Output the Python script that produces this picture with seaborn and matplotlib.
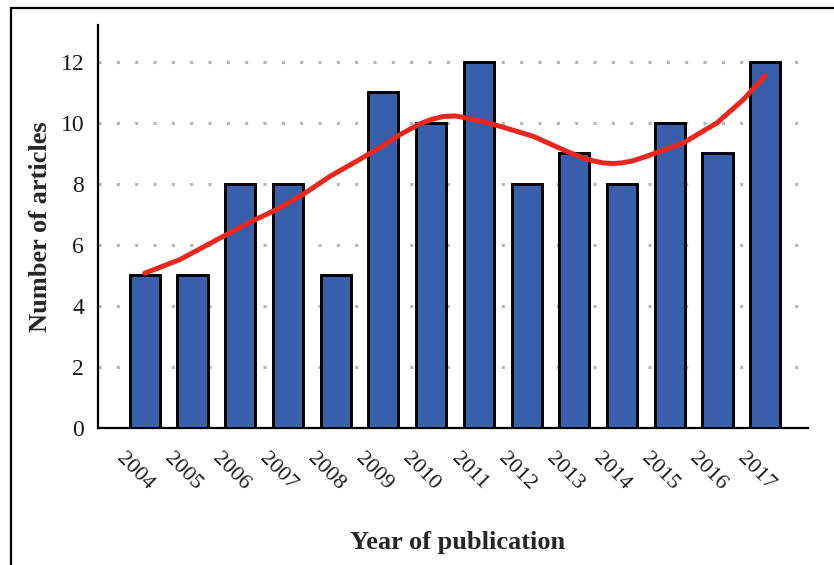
import numpy as np
import pandas as pd
import matplotlib
matplotlib.use('Agg')
import matplotlib.pyplot as plt
import matplotlib.transforms as mtransforms
from matplotlib.patches import Rectangle
import seaborn as sns

# Dados
years = [2004, 2005, 2006, 2007, 2008, 2009, 2010, 2011, 2012, 2013, 2014, 2015, 2016, 2017]
articles = [5, 5, 8, 8, 5, 11, 10, 12, 8, 9, 8, 10, 9, 12]

trend_x = [2004.0, 2004.73, 2005.71, 2006.31, 2006.76, 2007.31, 2007.88, 2008.5,
           2009.0, 2009.35, 2009.77, 2010.0, 2010.25, 2010.5, 2010.74, 2011.1, 2011.44,
           2012.14, 2012.84, 2013.15, 2013.39, 2013.6, 2013.81, 2014.0, 2014.23, 2014.52,
           2015.28, 2015.99, 2016.54, 2017.0]
trend_y = [5.07, 5.51, 6.33, 6.82, 7.15, 7.64, 8.24, 8.79,
           9.25, 9.61, 9.96, 10.1, 10.2, 10.22, 10.15, 10.03, 9.88,
           9.55, 9.06, 8.86, 8.75, 8.68, 8.66, 8.68, 8.75, 8.9,
           9.33, 9.99, 10.75, 11.54]

df = pd.DataFrame({'Year': years, 'Articles': articles})
trend = pd.DataFrame({'x': trend_x, 'y': trend_y})

sns.set_theme(style='white')
plt.rcParams['font.family'] = ['Liberation Serif', 'DejaVu Serif']

fig = plt.figure(figsize=(8.34, 5.65), dpi=100)
ax = fig.add_axes([0.1175, 0.2425, 0.8515, 0.7135])

sns.barplot(data=df, x='Year', y='Articles', native_scale=True, width=0.63,
            color='#3A5FAA', saturation=1, edgecolor='black', linewidth=2.1, ax=ax, zorder=3)
sns.lineplot(data=trend, x='x', y='y', color='#E8271F', linewidth=3.6, ax=ax, zorder=4)

ax.set_xlim(2003.02, 2017.9)
ax.set_ylim(0, 13.2)
ax.set_yticks(range(0, 13, 2))
ax.set_xticks(years)
ax.set_xticklabels([str(y) for y in years], rotation=-45, ha='center')

# grade pontilhada
for v in range(2, 13, 2):
    ax.axhline(v, color='#b5b5b5', linestyle=(0, (1, 5)), linewidth=2.2, zorder=1)

for s in ['top', 'right']:
    ax.spines[s].set_visible(False)
for s in ['left', 'bottom']:
    ax.spines[s].set_color('black')
    ax.spines[s].set_linewidth(1.6)

ax.tick_params(axis='both', which='major', direction='out', length=6, width=1.6,
               color='black', labelsize=17, labelcolor='#1a1a1a')
ax.tick_params(axis='x', pad=9, labelsize=16)
ax.tick_params(axis='y', pad=4)
ax.set_xlabel('Year of publication', fontsize=19, fontweight='bold')
ax.set_ylabel('Number of articles', fontsize=19, fontweight='bold')
ax.xaxis.set_label_coords(0.507, -0.255)
ax.yaxis.set_label_coords(-0.065, 0.5)

# desloca os rótulos do eixo x um pouco para a esquerda (depois do tick_params)
offset = mtransforms.ScaledTranslation(-7 / 72, 0, fig.dpi_scale_trans)
for lab in ax.get_xticklabels():
    lab.set_transform(lab.get_transform() + offset)

# moldura da figura
fig.patches.append(Rectangle((11 / 834, -0.05), 1.2, 1.05 - 8 / 565,
                             transform=fig.transFigure, fill=False,
                             edgecolor='black', linewidth=1.6))

fig.savefig('out.png', dpi=100)
